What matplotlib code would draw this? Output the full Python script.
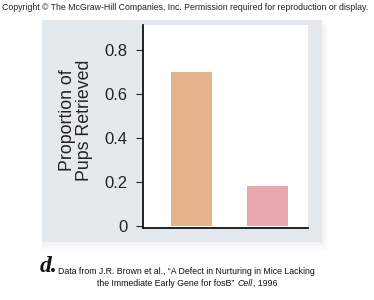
import matplotlib
matplotlib.use("Agg")
import matplotlib.pyplot as plt
from matplotlib.patches import Rectangle

plt.rcParams['font.family'] = ['Liberation Sans', 'DejaVu Sans']

# data
groups = ['wild type', 'fosB mutant']
proportion = [0.70, 0.18]
bar_colors = ['#e5b38a', '#e8a8ad']
yticks = [0, 0.2, 0.4, 0.6, 0.8]
ytick_labels = ['0', '0.2', '0.4', '0.6', '0.8']

W, H = 374, 300
fig = plt.figure(figsize=(W / 100, H / 100), dpi=100)
fig.patch.set_facecolor('white')

# grey panel with a soft shadow
for i, a in enumerate([0.025, 0.035, 0.05]):
    off = (3 - i) * 2
    fig.patches.append(Rectangle((42 / W, (300 - 244 - off) / H), (280 + off) / W, 224 / H,
                                 transform=fig.transFigure, facecolor='#9aa4aa',
                                 alpha=a, edgecolor='none', zorder=0))
fig.patches.append(Rectangle((42 / W, (300 - 242) / H), 280 / W, 222 / H,
                             transform=fig.transFigure, facecolor='#e3e9ed',
                             edgecolor='none', zorder=1))

ax = fig.add_axes([143 / W, 72 / H, 165 / W, 203 / H])
ax.set_zorder(2)
ax.set_facecolor('white')
ax.bar([0, 1], proportion, width=0.536, color=bar_colors)
ax.set_xlim(-0.634, 1.523)
ax.set_ylim(-0.01, 0.914)
ax.set_yticks(yticks)
ax.set_yticklabels(ytick_labels)
ax.set_xticks([])
ax.tick_params(axis='y', length=5, width=0.8, pad=6, labelsize=12, colors='#222222')
for s in ['top', 'right']:
    ax.spines[s].set_visible(False)
for s in ['left', 'bottom']:
    ax.spines[s].set_linewidth(1.3)
    ax.spines[s].set_color('#111111')

fig.text(76 / W, 0.60, 'Proportion of\nPups Retrieved', rotation=90, ha='center',
         va='center', fontsize=12.8, linespacing=1.0, color='#222222')

fig.text(2 / W, 1 - 8 / H, 'Copyright \u00a9 The McGraw-Hill Companies, Inc. Permission required for reproduction or display.',
         fontsize=6.3, ha='left', va='center', color='#222222')

fig.text(40 / W, 1 - 272 / H, 'd.', family='Liberation Serif', style='italic', weight='bold',
         fontsize=17, ha='left', va='baseline', color='#111111')

fig.text(58 / W, 1 - 274 / H, 'Data from J.R. Brown et al., \u201cA Defect in Nurturing in Mice Lacking',
         fontsize=6.3, ha='left', va='baseline', color='#111111')
t1 = fig.text(97 / W, 1 - 286 / H, 'the Immediate Early Gene for fosB\u201d ',
              fontsize=6.3, ha='left', va='baseline', color='#111111')
fig.canvas.draw()
bb = t1.get_window_extent()
t2 = fig.text((bb.x1 + 1) / W, 1 - 286 / H, 'Cell', fontsize=6.3, style='italic',
              ha='left', va='baseline', color='#111111')
fig.canvas.draw()
bb2 = t2.get_window_extent()
fig.text(bb2.x1 / W, 1 - 286 / H, ', 1996', fontsize=6.3, ha='left', va='baseline', color='#111111')

fig.savefig('out.png', dpi=100)
